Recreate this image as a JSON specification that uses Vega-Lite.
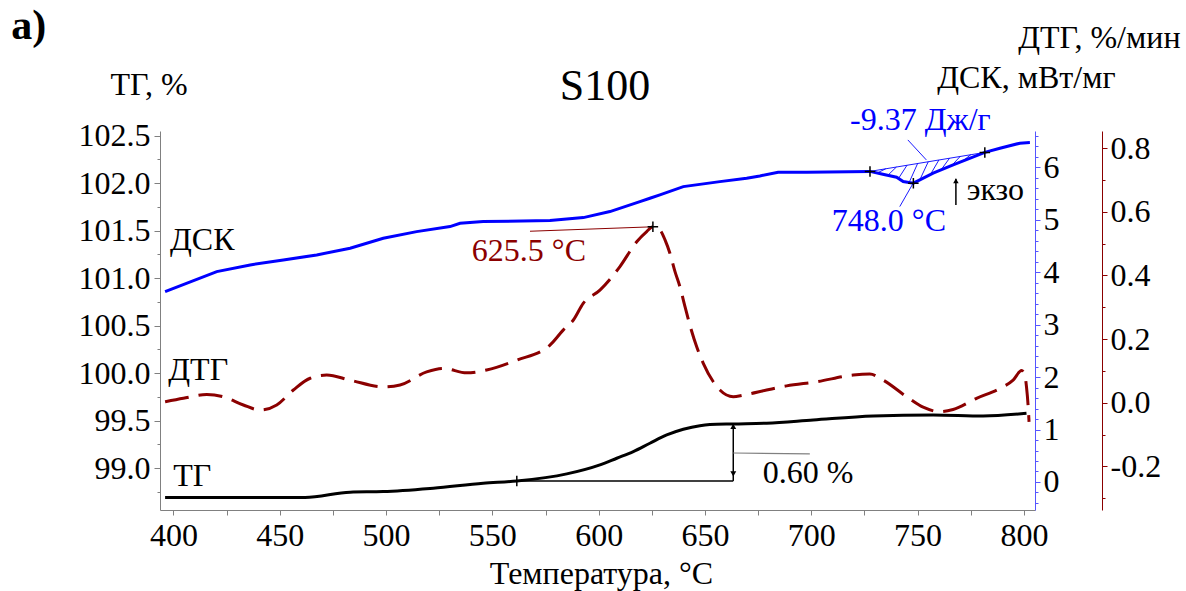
{
  "$schema": "https://vega.github.io/schema/vega-lite/v6.json",
  "width": 875,
  "height": 379,
  "autosize": {"type": "none"},
  "padding": {"left": 160, "top": 131, "right": 151, "bottom": 81},
  "background": "white",
  "config": {
    "view": {"stroke": null},
    "font": "Liberation Serif",
    "axis": {"grid": false, "labelFont": "Liberation Serif", "titleFont": "Liberation Serif", "labelColor": "black", "titleColor": "black", "titleFontWeight": "normal", "labelFontSize": 32, "titleFontSize": 32, "labelOverlap": false, "labelFlush": false}
  },
  "datasets": {
    "tg": [
      {"t": 396.1, "v": 98.691}, {"t": 461.9, "v": 98.691}, {"t": 483.1, "v": 98.748}, {"t": 498.7, "v": 98.754},
      {"t": 522.2, "v": 98.79}, {"t": 545.7, "v": 98.842}, {"t": 561.5, "v": 98.866}, {"t": 585.0, "v": 98.94},
      {"t": 600.6, "v": 99.035}, {"t": 608.5, "v": 99.105}, {"t": 616.3, "v": 99.175}, {"t": 624.1, "v": 99.263},
      {"t": 632.0, "v": 99.35}, {"t": 639.8, "v": 99.41}, {"t": 647.6, "v": 99.448}, {"t": 652.3, "v": 99.459},
      {"t": 663.3, "v": 99.466}, {"t": 679.0, "v": 99.474}, {"t": 700.9, "v": 99.508}, {"t": 729.1, "v": 99.55},
      {"t": 757.3, "v": 99.561}, {"t": 780.8, "v": 99.55}, {"t": 801.2, "v": 99.579}
    ],
    "dsc": [
      {"t": 396.1, "v": 3.628}, {"t": 420.4, "v": 4.01}, {"t": 436.1, "v": 4.137}, {"t": 451.7, "v": 4.233},
      {"t": 467.4, "v": 4.328}, {"t": 483.1, "v": 4.456}, {"t": 498.7, "v": 4.646}, {"t": 514.4, "v": 4.772},
      {"t": 530.1, "v": 4.868}, {"t": 534.8, "v": 4.932}, {"t": 545.7, "v": 4.963}, {"t": 577.1, "v": 4.982},
      {"t": 592.8, "v": 5.039}, {"t": 605.3, "v": 5.154}, {"t": 619.4, "v": 5.344}, {"t": 624.1, "v": 5.409},
      {"t": 628.8, "v": 5.472}, {"t": 639.8, "v": 5.63}, {"t": 657.0, "v": 5.725}, {"t": 669.6, "v": 5.79},
      {"t": 675.8, "v": 5.834}, {"t": 684.4, "v": 5.905}, {"t": 697.8, "v": 5.905}, {"t": 727.6, "v": 5.92},
      {"t": 733.1, "v": 5.872}, {"t": 740.1, "v": 5.809}, {"t": 743.2, "v": 5.726}, {"t": 748.0, "v": 5.695},
      {"t": 757.3, "v": 5.886}, {"t": 766.7, "v": 6.044}, {"t": 781.6, "v": 6.282}, {"t": 788.7, "v": 6.362},
      {"t": 798.1, "v": 6.458}, {"t": 802.8, "v": 6.469}
    ],
    "dtg": [
      {"t": 396.1, "v": 0.003}, {"t": 404.7, "v": 0.014}, {"t": 415.7, "v": 0.026}, {"t": 423.5, "v": 0.019},
      {"t": 432.9, "v": -0.007}, {"t": 440.8, "v": -0.023}, {"t": 448.6, "v": -0.007}, {"t": 456.4, "v": 0.04},
      {"t": 464.3, "v": 0.077}, {"t": 472.1, "v": 0.087}, {"t": 483.1, "v": 0.071}, {"t": 498.7, "v": 0.05},
      {"t": 506.6, "v": 0.056}, {"t": 519.1, "v": 0.097}, {"t": 526.9, "v": 0.108}, {"t": 537.9, "v": 0.094},
      {"t": 547.3, "v": 0.103}, {"t": 561.5, "v": 0.134}, {"t": 577.1, "v": 0.181}, {"t": 583.4, "v": 0.229},
      {"t": 588.1, "v": 0.26}, {"t": 592.8, "v": 0.313}, {"t": 600.6, "v": 0.354}, {"t": 610.0, "v": 0.428},
      {"t": 617.9, "v": 0.506}, {"t": 622.6, "v": 0.538}, {"t": 625.5, "v": 0.553}, {"t": 628.8, "v": 0.543},
      {"t": 631.2, "v": 0.512}, {"t": 633.5, "v": 0.47}, {"t": 635.9, "v": 0.412}, {"t": 638.2, "v": 0.365},
      {"t": 640.6, "v": 0.302}, {"t": 642.9, "v": 0.244}, {"t": 646.1, "v": 0.176}, {"t": 649.2, "v": 0.124},
      {"t": 653.9, "v": 0.066}, {"t": 657.0, "v": 0.04}, {"t": 663.3, "v": 0.019}, {"t": 668.0, "v": 0.024},
      {"t": 679.0, "v": 0.04}, {"t": 688.4, "v": 0.053}, {"t": 702.5, "v": 0.066}, {"t": 719.7, "v": 0.087},
      {"t": 727.5, "v": 0.09}, {"t": 733.8, "v": 0.071}, {"t": 744.8, "v": 0.019}, {"t": 752.6, "v": -0.014},
      {"t": 760.5, "v": -0.028}, {"t": 766.7, "v": -0.021}, {"t": 777.7, "v": 0.014}, {"t": 788.7, "v": 0.045},
      {"t": 794.9, "v": 0.071}, {"t": 798.9, "v": 0.101}, {"t": 800.4, "v": 0.087}, {"t": 801.2, "v": 0.05},
      {"t": 802.0, "v": -0.013}, {"t": 802.4, "v": -0.06}
    ]
  },
  "encoding": {
    "x": {
      "field": "t", "type": "quantitative",
      "scale": {"domain": [393.7, 805.2], "nice": false, "zero": false},
      "axis": {
        "title": "Температура, °C",
        "values": [400, 425, 450, 475, 500, 525, 550, 575, 600, 625, 650, 675, 700, 725, 750, 775, 800],
        "format": "d",
        "labelExpr": "datum.value % 50 == 0 ? datum.label : ''",
        "domainColor": "#808080", "tickColor": "#808080", "tickSize": 5, "labelPadding": 5,
        "titleFontSize": 32, "titleBaseline": "alphabetic", "titleY": 73, "titleX": 441
      }
    }
  },
  "resolve": {"scale": {"y": "independent"}},
  "layer": [
    {
      "encoding": {
        "y": {
          "field": "v", "type": "quantitative",
          "scale": {"domain": [98.56, 102.55], "nice": false, "zero": false},
          "axis": {
            "orient": "left",
            "title": "ТГ, %", "titleAngle": 0, "titleAlign": "left", "titleBaseline": "alphabetic", "titleX": -50, "titleY": -37,
            "values": [98.75, 99, 99.25, 99.5, 99.75, 100, 100.25, 100.5, 100.75, 101, 101.25, 101.5, 101.75, 102, 102.25, 102.5],
            "labelExpr": "abs(datum.value * 2 - round(datum.value * 2)) < 0.01 ? format(datum.value, '.1f') : ''",
            "domainColor": "#808080", "tickColor": "#808080",
            "tickSize": {"condition": {"test": "abs(datum.value * 2 - round(datum.value * 2)) < 0.01", "value": 6}, "value": 3},
            "labelPadding": 4
          }
        }
      },
      "layer": [
        {"data": {"name": "tg"}, "mark": {"type": "line", "color": "black", "strokeWidth": 3, "interpolate": "monotone"}},
        {
          "data": {"values": [
            {"t": 561.5, "v": 98.866, "t2": 663.3, "v2": 98.866},
            {"t": 663.3, "v": 98.866, "t2": 663.3, "v2": 99.466}
          ]},
          "mark": {"type": "rule", "color": "black", "strokeWidth": 1.5},
          "encoding": {"x2": {"field": "t2"}, "y2": {"field": "v2"}}
        },
        {
          "data": {"values": [{"t": 663.3, "v": 99.16, "t2": 699.3, "v2": 99.15}]},
          "mark": {"type": "rule", "color": "#808080", "strokeWidth": 1.2},
          "encoding": {"x2": {"field": "t2"}, "y2": {"field": "v2"}}
        },
        {
          "data": {"values": [{"t": 663.3, "v": 99.44, "dir": "up"}, {"t": 663.3, "v": 98.94, "dir": "down"}]},
          "mark": {"type": "point", "filled": true, "color": "black", "size": 35, "opacity": 1},
          "encoding": {"shape": {"field": "dir", "type": "nominal", "scale": {"domain": ["up", "down"], "range": ["triangle-up", "triangle-down"]}, "legend": null}}
        },
        {
          "data": {"values": [{"t": 561.5, "v": 98.866}]},
          "mark": {"type": "point", "shape": "M-1,0H1M0,-1V1", "filled": false, "color": "black", "size": 110, "strokeWidth": 1.5, "opacity": 1}
        },
        {
          "data": {"values": [
            {"t": 398.4, "v": 101.297, "label": "ДСК"},
            {"t": 397.6, "v": 99.93, "label": "ДТГ"},
            {"t": 399.9, "v": 98.814, "label": "ТГ"},
            {"t": 677.2, "v": 98.845, "label": "0.60 %"}
          ]},
          "mark": {"type": "text", "align": "left", "baseline": "alphabetic", "fontSize": 32, "color": "black", "font": "Liberation Serif"},
          "encoding": {"text": {"field": "label"}}
        },
        {
          "data": {"values": [{"t": 603.0, "v": 102.876, "label": "S100"}]},
          "mark": {"type": "text", "align": "center", "baseline": "alphabetic", "fontSize": 44, "color": "black", "font": "Liberation Serif"},
          "encoding": {"text": {"field": "label"}}
        },
        {
          "data": {"values": [{"t": 323.7, "v": 103.518, "label": "a)"}]},
          "mark": {"type": "text", "align": "left", "baseline": "alphabetic", "fontSize": 42, "fontWeight": "bold", "color": "black", "font": "Liberation Serif"},
          "encoding": {"text": {"field": "label"}}
        }
      ]
    },
    {
      "encoding": {
        "y": {
          "field": "v", "type": "quantitative",
          "scale": {"domain": [-0.534, 6.69], "nice": false, "zero": false},
          "axis": {
            "orient": "right",
            "title": "ДСК, мВт/мг", "titleAngle": 0, "titleAlign": "right", "titleBaseline": "alphabetic", "titleX": 80, "titleY": -44,
            "values": [-0.4, -0.2, 0, 0.2, 0.4, 0.6, 0.8, 1, 1.2, 1.4, 1.6, 1.8, 2, 2.2, 2.4, 2.6, 2.8, 3, 3.2, 3.4, 3.6, 3.8, 4, 4.2, 4.4, 4.6, 4.8, 5, 5.2, 5.4, 5.6, 5.8, 6, 6.2, 6.4, 6.6],
            "labelExpr": "abs(datum.value - round(datum.value)) < 0.01 ? format(round(datum.value), 'd') : ''",
            "domainColor": "#5555ff", "tickColor": "#5555ff",
            "tickSize": {"condition": {"test": "abs(datum.value - round(datum.value)) < 0.01", "value": 5}, "value": 3},
            "labelPadding": 3
          }
        }
      },
      "layer": [
        {"data": {"name": "dsc"}, "mark": {"type": "line", "color": "#0000ff", "strokeWidth": 3}},
        {
          "data": {"values": [
            {"t": 727.6, "v": 5.92, "t2": 781.6, "v2": 6.282},
            {"t": 735, "v": 5.97, "t2": 731, "v2": 5.89},
            {"t": 740, "v": 6.003, "t2": 736, "v2": 5.846},
            {"t": 745, "v": 6.037, "t2": 741, "v2": 5.785},
            {"t": 750, "v": 6.07, "t2": 746, "v2": 5.708},
            {"t": 755, "v": 6.104, "t2": 751, "v2": 5.757},
            {"t": 760, "v": 6.137, "t2": 756, "v2": 5.859},
            {"t": 765, "v": 6.171, "t2": 761, "v2": 5.948},
            {"t": 770, "v": 6.204, "t2": 766, "v2": 6.032},
            {"t": 775, "v": 6.238, "t2": 771, "v2": 6.112},
            {"t": 745.4, "v": 6.52, "t2": 754.1, "v2": 6.139},
            {"t": 747.9, "v": 5.695, "t2": 741.6, "v2": 5.249}
          ]},
          "mark": {"type": "rule", "color": "#0000ff", "strokeWidth": 0.9},
          "encoding": {"x2": {"field": "t2"}, "y2": {"field": "v2"}}
        },
        {
          "data": {"values": [{"t": 768.0, "v": 5.281, "t2": 768.0, "v2": 5.78}]},
          "mark": {"type": "rule", "color": "black", "strokeWidth": 1.5},
          "encoding": {"x2": {"field": "t2"}, "y2": {"field": "v2"}}
        },
        {
          "data": {"values": [{"t": 768.0, "v": 5.74}]},
          "mark": {"type": "point", "shape": "triangle-up", "filled": true, "color": "black", "size": 30, "opacity": 1}
        },
        {
          "data": {"values": [{"t": 727.6, "v": 5.92}, {"t": 748.0, "v": 5.695}, {"t": 781.6, "v": 6.282}]},
          "mark": {"type": "point", "shape": "M-1,0H1M0,-1V1", "filled": false, "color": "black", "size": 110, "strokeWidth": 1.5, "opacity": 1}
        },
        {
          "data": {"values": [
            {"t": 751.3, "v": 6.711, "label": "-9.37 Дж/г"},
            {"t": 736.5, "v": 4.786, "label": "748.0 °C"}
          ]},
          "mark": {"type": "text", "align": "center", "baseline": "alphabetic", "fontSize": 32, "color": "#0000ff", "font": "Liberation Serif"},
          "encoding": {"text": {"field": "label"}}
        },
        {
          "data": {"values": [{"t": 773.1, "v": 5.377, "label": "экзо"}]},
          "mark": {"type": "text", "align": "left", "baseline": "alphabetic", "fontSize": 32, "color": "black", "font": "Liberation Serif"},
          "encoding": {"text": {"field": "label"}}
        }
      ]
    },
    {
      "encoding": {
        "y": {
          "field": "v", "type": "quantitative",
          "scale": {"domain": [-0.337, 0.854], "nice": false, "zero": false},
          "axis": {
            "orient": "right", "offset": 67,
            "title": "ДТГ, %/мин", "titleAngle": 0, "titleAlign": "right", "titleBaseline": "alphabetic", "titleX": 78, "titleY": -84,
            "values": [-0.3, -0.2, -0.1, 0, 0.1, 0.2, 0.3, 0.4, 0.5, 0.6, 0.7, 0.8],
            "labelExpr": "abs(datum.value * 5 - round(datum.value * 5)) < 0.01 ? (datum.value < -0.001 ? '-' + format(-datum.value, '.1f') : format(abs(datum.value), '.1f')) : ''",
            "domainColor": "#8b0000", "tickColor": "#8b0000",
            "tickSize": {"condition": {"test": "abs(datum.value * 5 - round(datum.value * 5)) < 0.01", "value": 5}, "value": 3},
            "labelPadding": 3
          }
        }
      },
      "layer": [
        {"data": {"name": "dtg"}, "mark": {"type": "line", "color": "#8b0000", "strokeWidth": 3, "strokeDash": [24, 10], "interpolate": "monotone"}},
        {
          "data": {"values": [{"t": 567.7, "v": 0.539, "t2": 625.5, "v2": 0.553}]},
          "mark": {"type": "rule", "color": "#8b0000", "strokeWidth": 1},
          "encoding": {"x2": {"field": "t2"}, "y2": {"field": "v2"}}
        },
        {
          "data": {"values": [{"t": 625.5, "v": 0.553}]},
          "mark": {"type": "point", "shape": "M-1,0H1M0,-1V1", "filled": false, "color": "black", "size": 110, "strokeWidth": 1.5, "opacity": 1}
        },
        {
          "data": {"values": [{"t": 567.2, "v": 0.446, "label": "625.5 °C"}]},
          "mark": {"type": "text", "align": "center", "baseline": "alphabetic", "fontSize": 32, "color": "#8b0000", "font": "Liberation Serif"},
          "encoding": {"text": {"field": "label"}}
        }
      ]
    }
  ]
}
